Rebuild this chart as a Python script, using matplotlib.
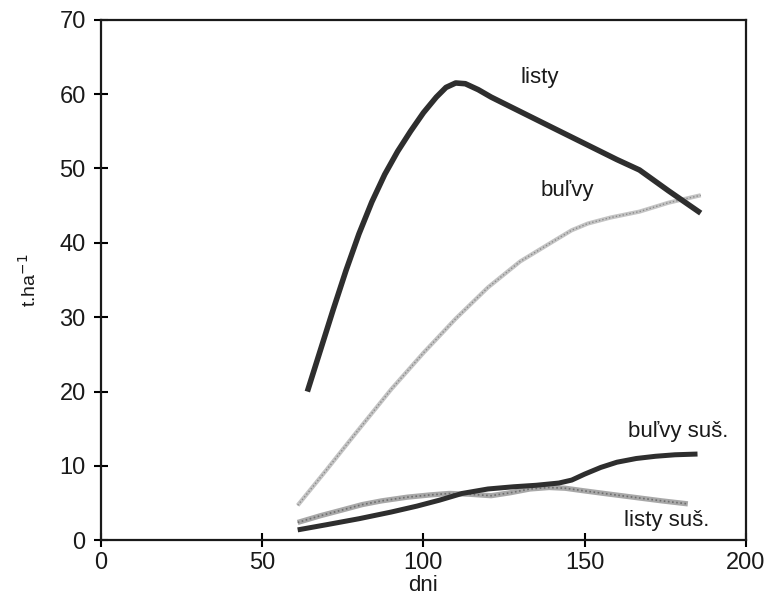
import matplotlib.pyplot as plt

plt.rcParams['font.family'] = ['Liberation Sans', 'DejaVu Sans']

# listy (leaves, fresh)
listy_x = [64, 68, 72, 76, 80, 84, 88, 92, 96, 100, 104, 107, 110, 113, 117, 121,
           140, 160, 167, 176, 186]
listy_y = [20.0, 25.5, 31.0, 36.3, 41.2, 45.5, 49.2, 52.3, 55.0, 57.5, 59.6, 60.9, 61.5,
           61.4, 60.6, 59.6, 55.5, 51.2, 49.8, 47.0, 44.0]

# bulvy (tubers, fresh)
bulvy_x = [61, 70, 79, 90, 100, 110, 120, 130, 141, 146, 151, 158, 167, 176, 186]
bulvy_y = [4.7, 9.5, 14.4, 20.3, 25.2, 29.8, 34.0, 37.5, 40.4, 41.7, 42.6, 43.4, 44.2, 45.4, 46.4]

# bulvy sus. (tubers, dry)
bulvy_sus_x = [61, 70, 80, 90, 98, 105, 112, 120, 128, 135, 142, 146, 150, 155, 160, 166,
               172, 178, 185]
bulvy_sus_y = [1.4, 2.1, 2.9, 3.8, 4.6, 5.4, 6.3, 6.9, 7.2, 7.4, 7.7, 8.1, 8.9, 9.8, 10.5,
               11.0, 11.3, 11.5, 11.6]

# listy sus. (leaves, dry)
listy_sus_x = [61, 68, 75, 81, 87, 95, 102, 108, 114, 121, 127, 133, 139, 144, 149, 156,
               165, 174, 182]
listy_sus_y = [2.4, 3.3, 4.1, 4.8, 5.3, 5.8, 6.1, 6.3, 6.2, 6.0, 6.4, 6.9, 7.1, 7.0, 6.7,
               6.3, 5.8, 5.3, 4.9]

fig = plt.figure(figsize=(7.65, 5.99), dpi=100)
ax = fig.add_axes([0.132, 0.098, 0.843, 0.869])

# gray "textured" lines: light base with a darker dotted overlay
ax.plot(bulvy_x, bulvy_y, color='#c4c4c4', lw=3, solid_capstyle='butt')
ax.plot(bulvy_x, bulvy_y, color='#8c8c8c', lw=1.0, ls=(0, (1, 1.5)))
ax.plot(listy_sus_x, listy_sus_y, color='#a8a8a8', lw=3.8, solid_capstyle='butt')
ax.plot(listy_sus_x, listy_sus_y, color='#6e6e6e', lw=1.2, ls=(0, (1, 1.5)))
ax.plot(bulvy_sus_x, bulvy_sus_y, color='#2e2e2e', lw=3.6, solid_capstyle='butt')
ax.plot(listy_x, listy_y, color='#2e2e2e', lw=4, solid_capstyle='butt')

lab = dict(fontsize=16, ha='center', va='center', color='#1a1a1a')
ax.text(136, 62.3, 'listy', **lab)
ax.text(144.5, 47, 'buľvy', **lab)
ax.text(179, 14.6, 'buľvy suš.', **lab)
ax.text(175.5, 2.6, 'listy suš.', **lab)

ax.set_xlim(0, 200)
ax.set_ylim(0, 70)
ax.set_xticks([0, 50, 100, 150, 200])
ax.set_yticks(range(0, 71, 10))
ax.tick_params(direction='inout', length=10, width=1.5, labelsize=17,
               labelcolor='#1a1a1a')
ax.tick_params(axis='y', pad=6)
for s in ax.spines.values():
    s.set_linewidth(1.6)
    s.set_color('#1a1a1a')

ax.set_xlabel('dni', fontsize=16, labelpad=1, color='#1a1a1a')
ax.set_ylabel('t.ha$^{-1}$', fontsize=14, labelpad=14, color='#1a1a1a')

fig.savefig('out.png', dpi=100)
